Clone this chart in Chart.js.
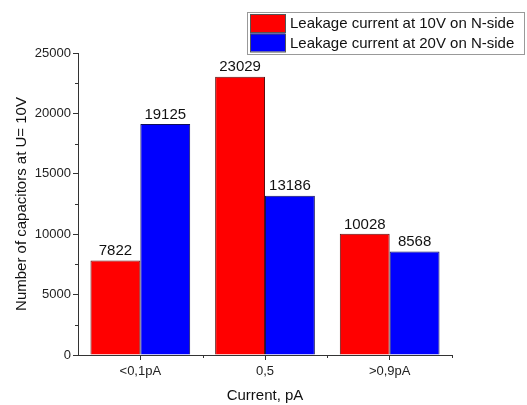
<!DOCTYPE html>
<html>
<head>
<meta charset="utf-8">
<script src="https://cdn.jsdelivr.net/npm/chart.js@4.4.1/dist/chart.umd.min.js"></script>
<style>
  html, body { margin: 0; padding: 0; background: #fff; }
  #wrap { width: 527px; height: 405px; }
</style>
</head>
<body>
<div id="wrap"><canvas id="bar-chart"></canvas></div>
<script>
// data
var categories = ["<0,1pA", "0,5", ">0,9pA"];
var leak10V = [7822, 23029, 10028];
var leak20V = [19125, 13186, 8568];
var seriesNames = ["Leakage current at 10V on N-side", "Leakage current at 20V on N-side"];
var yTicks = [0, 5000, 10000, 15000, 20000, 25000];

var axisColor = "#333";
var fontName = "'Liberation Sans', Arial, sans-serif";

// minor ticks, value labels and the boxed legend
var extras = {
  id: "extras",
  afterDraw: function(chart) {
    var ctx = chart.ctx;
    var xs = chart.scales.x, ys = chart.scales.y;
    var area = chart.chartArea;
    ctx.save();
    ctx.strokeStyle = axisColor;
    ctx.lineWidth = 1;
    // y minor ticks
    for (var i = 0; i < yTicks.length - 1; i++) {
      var yy = Math.round(ys.getPixelForValue((yTicks[i] + yTicks[i + 1]) / 2)) + 0.5;
      ctx.beginPath();
      ctx.moveTo(area.left - 3, yy);
      ctx.lineTo(area.left, yy);
      ctx.stroke();
    }
    // x minor ticks at category bounds
    var step = (area.right - area.left) / categories.length;
    for (var k = 1; k <= categories.length; k++) {
      var xx = Math.round(area.left + step * k) + 0.5;
      ctx.beginPath();
      ctx.moveTo(xx, area.bottom);
      ctx.lineTo(xx, area.bottom + 3);
      ctx.stroke();
    }
    // value labels
    ctx.fillStyle = "#111";
    ctx.font = "15px " + fontName;
    ctx.textAlign = "center";
    ctx.textBaseline = "bottom";
    chart.data.datasets.forEach(function(ds, di) {
      chart.getDatasetMeta(di).data.forEach(function(bar, j) {
        ctx.fillText(String(ds.data[j]), bar.x, bar.y - 2);
      });
    });
    // legend
    var lx = 247, ly = 12, lw = 277, lh = 42;
    ctx.fillStyle = "#fff";
    ctx.fillRect(lx, ly, lw, lh);
    ctx.strokeStyle = "#999";
    ctx.strokeRect(lx + 0.5, ly + 0.5, lw, lh);
    ctx.textAlign = "left";
    ctx.textBaseline = "middle";
    chart.data.datasets.forEach(function(ds, di) {
      var ry = ly + 2 + di * 19.5;
      ctx.fillStyle = ds.backgroundColor;
      ctx.fillRect(lx + 3, ry, 35, 18);
      ctx.strokeStyle = "#555";
      ctx.strokeRect(lx + 3.5, ry + 0.5, 35, 18);
      ctx.fillStyle = "#111";
      ctx.fillText(ds.label, lx + 43, ry + 10);
    });
    ctx.restore();
  }
};

new Chart(document.getElementById("bar-chart"), {
  type: "bar",
  data: {
    labels: categories,
    datasets: [
      {
        label: seriesNames[0],
        data: leak10V,
        backgroundColor: "#ff0000",
        borderColor: "#5a1010",
        borderWidth: 1,
        categoryPercentage: 0.8,
        barPercentage: 1.0
      },
      {
        label: seriesNames[1],
        data: leak20V,
        backgroundColor: "#0000ff",
        borderColor: "#10105a",
        borderWidth: 1,
        categoryPercentage: 0.8,
        barPercentage: 1.0
      }
    ]
  },
  options: {
    responsive: true,
    maintainAspectRatio: false,
    animation: false,
    layout: { padding: { left: 0, top: 53, right: 75, bottom: 0 } },
    plugins: {
      legend: { display: false },
      tooltip: { enabled: false }
    },
    scales: {
      x: {
        offset: true,
        grid: { display: true, offset: false, drawOnChartArea: false, tickLength: 5, color: axisColor },
        border: { display: true, color: axisColor, width: 1 },
        ticks: { color: "#222", padding: 4, font: { family: fontName, size: 13 } },
        title: { display: true, text: "Current, pA", color: "#111", padding: { top: 0, bottom: 0 }, font: { family: fontName, size: 15 } },
        afterFit: function(scale) { scale.height = 50; }
      },
      y: {
        min: 0,
        max: 25000,
        afterBuildTicks: function(scale) {
          scale.ticks = yTicks.map(function(v) { return { value: v }; });
        },
        grid: { display: true, drawOnChartArea: false, tickLength: 5, color: axisColor },
        border: { display: true, color: axisColor, width: 1 },
        ticks: {
          color: "#222", padding: 2, font: { family: fontName, size: 13 },
          callback: function(v) { return String(v); }
        },
        title: { display: true, text: "Number of capacitors at U= 10V", color: "#111", padding: { top: 13, bottom: 0 }, font: { family: fontName, size: 15 } },
        afterFit: function(scale) { scale.width = 78; }
      }
    }
  },
  plugins: [extras]
});
</script>
</body>
</html>
